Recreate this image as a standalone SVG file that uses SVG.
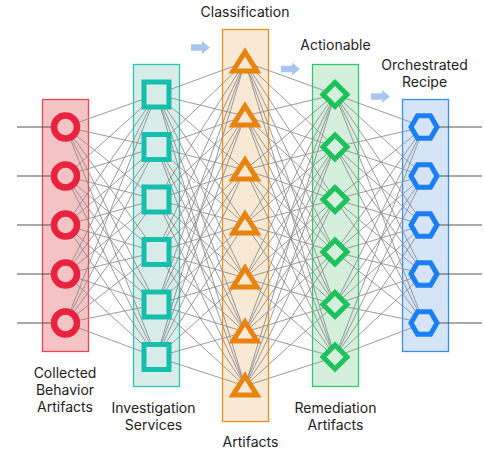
<svg xmlns="http://www.w3.org/2000/svg" width="484" height="452" viewBox="0 0 484 452">
<style>
.lbl{font-family:Inter,"Liberation Sans",sans-serif;font-size:14px;fill:#222;text-anchor:middle}
.con{fill:none;stroke:#8f8f8f;stroke-width:0.9}
.io{fill:none;stroke:#555;stroke-width:1.1}
.arr{fill:#a9c6f0}
.c{fill:#f4c3c3;stroke:#e8223f;stroke-width:6.5}
.s{fill:#d8ece9;stroke:#14bfac;stroke-width:5}
.t{fill:#f8e9d4;stroke:#e8830e;stroke-width:5;stroke-linejoin:miter}
.d{fill:#d4f0dd;stroke:#1ec25a;stroke-width:5;stroke-linejoin:miter}
.h{fill:#d5e5f7;stroke:#1a7ff5;stroke-width:5;stroke-linejoin:miter}
</style>
<defs>
<path id="arrow" class="arr" d="M0 -3.3H11V-6.5L19 0L11 6.5V3.3H0Z"/>
<polygon id="tri" class="t" points="0,-10 12,9 -12,9"/>
<polygon id="dia" class="d" points="0,-12 12,0 0,12 -12,0"/>
<polygon id="hex" class="h" points="13,0 6.5,11.26 -6.5,11.26 -13,0 -6.5,-11.26 6.5,-11.26"/>
</defs>

<g id="layers">
<rect id="layer-red" x="42.5" y="99.5" width="46" height="252" fill="#f4c3c3" stroke="#ee4457" stroke-width="1.3"/>
<rect id="layer-teal" x="133.5" y="64.5" width="46" height="322" fill="#d8ece9" stroke="#2ac5b5" stroke-width="1.3"/>
<rect id="layer-orange" x="222.5" y="29.5" width="46" height="392" fill="#f8e9d4" stroke="#ec8d1e" stroke-width="1.3"/>
<rect id="layer-green" x="312.5" y="64.5" width="46" height="322" fill="#d4f0dd" stroke="#2fc86a" stroke-width="1.3"/>
<rect id="layer-blue" x="402.5" y="99.5" width="46" height="252" fill="#d5e5f7" stroke="#3a8ef0" stroke-width="1.3"/>
</g>

<g id="arrows">
<use href="#arrow" x="191" y="47.5"/>
<use href="#arrow" x="281" y="69"/>
<use href="#arrow" x="371" y="96.5"/>
</g>

<g id="connectors">
<path class="io" d="M17 127H65.5M17 176H65.5M17 225H65.5M17 274H65.5M17 323H65.5"/>
<path class="io" d="M424 127H482M424 176H482M424 225H482M424 274H482M424 323H482"/>
<path class="con" d="M65.5 127L156.5 94.5M65.5 127L156.5 147M65.5 127L156.5 199.5M65.5 127L156.5 252M65.5 127L156.5 304.5M65.5 127L156.5 357"/>
<path class="con" d="M65.5 176L156.5 94.5M65.5 176L156.5 147M65.5 176L156.5 199.5M65.5 176L156.5 252M65.5 176L156.5 304.5M65.5 176L156.5 357"/>
<path class="con" d="M65.5 225L156.5 94.5M65.5 225L156.5 147M65.5 225L156.5 199.5M65.5 225L156.5 252M65.5 225L156.5 304.5M65.5 225L156.5 357"/>
<path class="con" d="M65.5 274L156.5 94.5M65.5 274L156.5 147M65.5 274L156.5 199.5M65.5 274L156.5 252M65.5 274L156.5 304.5M65.5 274L156.5 357"/>
<path class="con" d="M65.5 323L156.5 94.5M65.5 323L156.5 147M65.5 323L156.5 199.5M65.5 323L156.5 252M65.5 323L156.5 304.5M65.5 323L156.5 357"/>
<path class="con" d="M156.5 94.5L245 62M156.5 94.5L245 116M156.5 94.5L245 170M156.5 94.5L245 224M156.5 94.5L245 278M156.5 94.5L245 332M156.5 94.5L245 386"/>
<path class="con" d="M156.5 147L245 62M156.5 147L245 116M156.5 147L245 170M156.5 147L245 224M156.5 147L245 278M156.5 147L245 332M156.5 147L245 386"/>
<path class="con" d="M156.5 199.5L245 62M156.5 199.5L245 116M156.5 199.5L245 170M156.5 199.5L245 224M156.5 199.5L245 278M156.5 199.5L245 332M156.5 199.5L245 386"/>
<path class="con" d="M156.5 252L245 62M156.5 252L245 116M156.5 252L245 170M156.5 252L245 224M156.5 252L245 278M156.5 252L245 332M156.5 252L245 386"/>
<path class="con" d="M156.5 304.5L245 62M156.5 304.5L245 116M156.5 304.5L245 170M156.5 304.5L245 224M156.5 304.5L245 278M156.5 304.5L245 332M156.5 304.5L245 386"/>
<path class="con" d="M156.5 357L245 62M156.5 357L245 116M156.5 357L245 170M156.5 357L245 224M156.5 357L245 278M156.5 357L245 332M156.5 357L245 386"/>
<path class="con" d="M245 62L335 94.5M245 62L335 147M245 62L335 199.5M245 62L335 252M245 62L335 304.5M245 62L335 357"/>
<path class="con" d="M245 116L335 94.5M245 116L335 147M245 116L335 199.5M245 116L335 252M245 116L335 304.5M245 116L335 357"/>
<path class="con" d="M245 170L335 94.5M245 170L335 147M245 170L335 199.5M245 170L335 252M245 170L335 304.5M245 170L335 357"/>
<path class="con" d="M245 224L335 94.5M245 224L335 147M245 224L335 199.5M245 224L335 252M245 224L335 304.5M245 224L335 357"/>
<path class="con" d="M245 278L335 94.5M245 278L335 147M245 278L335 199.5M245 278L335 252M245 278L335 304.5M245 278L335 357"/>
<path class="con" d="M245 332L335 94.5M245 332L335 147M245 332L335 199.5M245 332L335 252M245 332L335 304.5M245 332L335 357"/>
<path class="con" d="M245 386L335 94.5M245 386L335 147M245 386L335 199.5M245 386L335 252M245 386L335 304.5M245 386L335 357"/>
<path class="con" d="M335 94.5L424 127M335 94.5L424 176M335 94.5L424 225M335 94.5L424 274M335 94.5L424 323"/>
<path class="con" d="M335 147L424 127M335 147L424 176M335 147L424 225M335 147L424 274M335 147L424 323"/>
<path class="con" d="M335 199.5L424 127M335 199.5L424 176M335 199.5L424 225M335 199.5L424 274M335 199.5L424 323"/>
<path class="con" d="M335 252L424 127M335 252L424 176M335 252L424 225M335 252L424 274M335 252L424 323"/>
<path class="con" d="M335 304.5L424 127M335 304.5L424 176M335 304.5L424 225M335 304.5L424 274M335 304.5L424 323"/>
<path class="con" d="M335 357L424 127M335 357L424 176M335 357L424 225M335 357L424 274M335 357L424 323"/>
</g>

<g id="red-1"><circle class="c" cx="65.5" cy="127" r="11.5"/></g>
<g id="red-2"><circle class="c" cx="65.5" cy="176" r="11.5"/></g>
<g id="red-3"><circle class="c" cx="65.5" cy="225" r="11.5"/></g>
<g id="red-4"><circle class="c" cx="65.5" cy="274" r="11.5"/></g>
<g id="red-5"><circle class="c" cx="65.5" cy="323" r="11.5"/></g>

<g id="teal-1"><rect class="s" x="144" y="82" width="25" height="25"/></g>
<g id="teal-2"><rect class="s" x="144" y="134.5" width="25" height="25"/></g>
<g id="teal-3"><rect class="s" x="144" y="187" width="25" height="25"/></g>
<g id="teal-4"><rect class="s" x="144" y="239.5" width="25" height="25"/></g>
<g id="teal-5"><rect class="s" x="144" y="292" width="25" height="25"/></g>
<g id="teal-6"><rect class="s" x="144" y="344.5" width="25" height="25"/></g>

<g id="orange-1"><use href="#tri" x="245" y="62"/></g>
<g id="orange-2"><use href="#tri" x="245" y="116"/></g>
<g id="orange-3"><use href="#tri" x="245" y="170"/></g>
<g id="orange-4"><use href="#tri" x="245" y="224"/></g>
<g id="orange-5"><use href="#tri" x="245" y="278"/></g>
<g id="orange-6"><use href="#tri" x="245" y="332"/></g>
<g id="orange-7"><use href="#tri" x="245" y="386"/></g>

<g id="green-1"><use href="#dia" x="335" y="94.5"/></g>
<g id="green-2"><use href="#dia" x="335" y="147"/></g>
<g id="green-3"><use href="#dia" x="335" y="199.5"/></g>
<g id="green-4"><use href="#dia" x="335" y="252"/></g>
<g id="green-5"><use href="#dia" x="335" y="304.5"/></g>
<g id="green-6"><use href="#dia" x="335" y="357"/></g>

<g id="blue-1"><use href="#hex" x="424" y="127"/></g>
<g id="blue-2"><use href="#hex" x="424" y="176"/></g>
<g id="blue-3"><use href="#hex" x="424" y="225"/></g>
<g id="blue-4"><use href="#hex" x="424" y="274"/></g>
<g id="blue-5"><use href="#hex" x="424" y="323"/></g>

<g id="labels">
<text class="lbl" x="65" y="378">Collected</text>
<text class="lbl" x="65" y="395">Behavior</text>
<text class="lbl" x="65" y="412">Artifacts</text>
<text class="lbl" x="153.5" y="413">Investigation</text>
<text class="lbl" x="153.5" y="430">Services</text>
<text class="lbl" x="245" y="17">Classification</text>
<text class="lbl" x="250.5" y="447">Artifacts</text>
<text class="lbl" x="335.5" y="50">Actionable</text>
<text class="lbl" x="335.5" y="413">Remediation</text>
<text class="lbl" x="335.5" y="430">Artifacts</text>
<text class="lbl" x="424.5" y="70">Orchestrated</text>
<text class="lbl" x="424.5" y="87">Recipe</text>
</g>
</svg>
